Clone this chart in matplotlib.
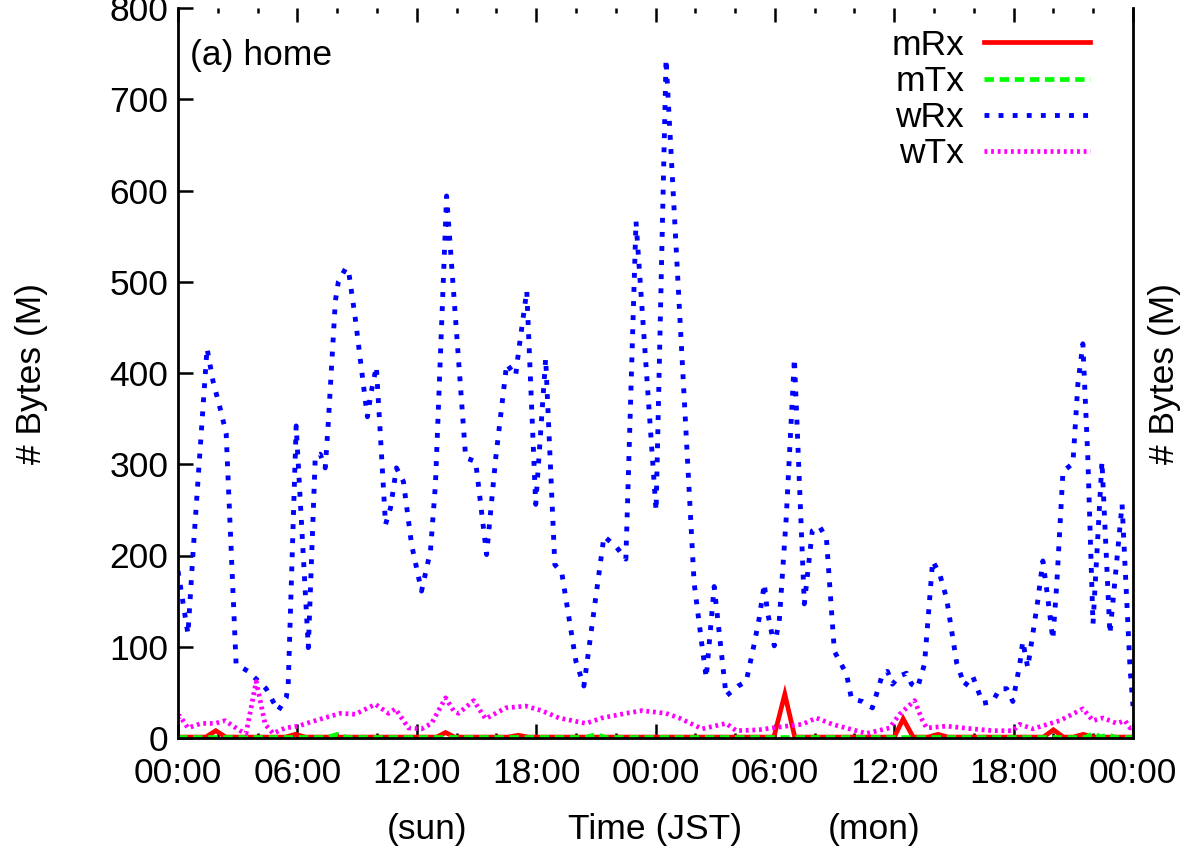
import matplotlib
matplotlib.use("Agg")
import matplotlib.pyplot as plt
import matplotlib.transforms as mtransforms

plt.rcParams['font.family'] = ['Liberation Sans', 'DejaVu Sans']
plt.rcParams['font.size'] = 25.5

# time in hours from Sat 00:00 (JST), values in MBytes
wrx_t = [0.0, 0.5, 0.75, 1.46, 1.76, 2.12, 2.42, 2.92, 3.53, 4.43, 4.78, 5.04, 5.44, 5.54,
         5.94, 6.55, 6.90, 7.15, 7.40, 7.55, 7.91, 8.06, 8.41, 8.56, 8.91, 9.42, 9.52, 9.72,
         9.97, 10.22, 10.43, 10.68, 10.98, 11.33, 11.74, 12.24, 12.69, 12.94, 13.50, 14.46,
         14.96, 15.51, 15.97, 16.52, 16.97, 17.12, 17.53, 17.98, 18.48, 18.94, 19.29, 20.00,
         20.40, 21.41, 22.01, 22.51, 23.02, 24.03, 24.53, 25.94, 26.35, 26.55, 26.95, 27.55,
         28.16, 28.56, 28.97, 29.21, 29.47, 29.62, 29.97, 30.22, 30.57, 30.98, 31.48, 31.88,
         32.24, 32.59, 32.99, 33.60, 33.85, 34.40, 34.90, 35.41, 35.66, 35.91, 36.27, 36.62,
         36.87, 37.17, 37.52, 37.93, 38.28, 38.63, 39.14, 39.54, 39.94, 40.45, 40.95, 41.30,
         41.65, 41.96, 42.31, 42.46, 42.71, 43.21, 43.47, 43.72, 43.97, 44.17, 44.48, 44.98,
         45.23, 45.48, 45.73, 45.99, 46.44, 46.84, 47.45, 47.85, 48.0]
wrx_v = [183, 114, 201, 427, 391, 361, 334, 81, 73, 54, 40, 30, 44, 59,
         342, 99, 309, 311, 296, 344, 479, 500, 514, 514, 460, 369, 352, 380,
         407, 314, 234, 252, 296, 281, 212, 161, 205, 278, 594, 307,
         303, 201, 307, 410, 397, 424, 490, 256, 416, 190, 181, 84,
         57, 221, 210, 196, 566, 249, 744, 170, 99, 66, 166, 46,
         57, 62, 104, 131, 169, 139, 101, 128, 241, 416, 147, 227,
         232, 219, 95, 70, 43, 40, 33, 70, 73, 59, 68, 71,
         59, 55, 81, 194, 180, 153, 82, 57, 68, 38, 40, 54,
         54, 40, 81, 106, 77, 150, 194, 153, 108, 169, 292, 301,
         388, 432, 307, 125, 303, 114, 256, 77, 35]

wtx_t = [0.0, 0.1, 0.5, 1.16, 1.86, 2.37, 3.12, 3.42, 3.93, 4.38, 4.78, 5.39, 6.04, 6.45,
         7.20, 8.16, 8.91, 9.92, 10.58, 10.93, 11.58, 12.24, 12.74, 13.45, 13.85, 14.10,
         14.86, 15.46, 16.47, 17.48, 18.28, 19.14, 20.50, 21.31, 22.51, 23.32, 24.53, 25.18,
         26.34, 27.55, 28.06, 29.21, 29.87, 30.57, 31.38, 32.08, 32.89, 33.75, 34.60, 35.76,
         36.27, 37.02, 37.42, 37.63, 38.63, 39.94, 40.95, 41.96, 42.31, 42.96, 44.32, 45.48,
         45.99, 46.49, 47.19, 47.60, 47.85, 48.0]
wtx_v = [22, 24, 11, 16, 16, 19, 8, 5, 62, 15, 5, 11, 13, 16,
         21, 27, 26, 37, 27, 32, 11, 10, 16, 44, 30, 27,
         41, 21, 33, 35, 30, 22, 16, 22, 27, 30, 27, 22,
         10, 16, 8, 9, 11, 13, 15, 22, 15, 10, 5, 11,
         26, 41, 19, 11, 13, 10, 8, 8, 15, 10, 19, 32,
         19, 22, 16, 19, 11, 12]

mrx_t = [0.0, 1.4, 1.9, 2.4, 5.4, 5.9, 6.4, 13.0, 13.45, 13.9, 16.6, 17.1, 17.6,
         29.95, 30.5, 31.0, 36.0, 36.45, 36.95, 37.7, 38.2, 38.7, 43.5, 44.0, 44.5,
         45.0, 45.5, 46.0, 48.0]
mrx_v = [1, 1, 8, 1, 1, 4, 1, 1, 6, 1, 1, 3, 1,
         1, 48, 1, 1, 21, 1, 1, 4, 1, 1, 9, 1,
         1, 4, 1, 1]

mtx_t = [0.0, 7.5, 8.0, 8.5, 20.5, 21.0, 21.5, 45.6, 46.0, 46.4, 46.75, 47.1, 48.0]
mtx_v = [0.5, 0.5, 4, 0.5, 0.5, 4, 0.5, 0.5, 5, 1, 4, 0.5, 0.5]

xtick_hours = [0, 6, 12, 18, 24, 30, 36, 42, 48]
xtick_labels = ['00:00', '06:00', '12:00', '18:00', '00:00', '06:00', '12:00', '18:00', '00:00']
ytick_values = [0, 100, 200, 300, 400, 500, 600, 700, 800]

fig = plt.figure(figsize=(11.84, 8.51), dpi=100)
ax = fig.add_axes([178 / 1184, 113 / 851, 955 / 1184, 730 / 851])

ax.plot(mrx_t, mrx_v, color='#ff0000', lw=3.4, label='mRx', solid_joinstyle='miter')
ax.plot(mtx_t, mtx_v, color='#00ff00', lw=3.4, dashes=(2.0, 1.2), label='mTx')
ax.plot(wrx_t, wrx_v, color='#0000ff', lw=3.5, dashes=(1.0, 1.9), label='wRx')
ax.plot(wtx_t, wtx_v, color='#ff00ff', lw=3.4, dashes=(0.6, 0.8), label='wTx')

ax.set_xlim(0, 48)
ax.set_ylim(0, 800)
ax.set_xticks(xtick_hours)
ax.set_xticklabels(xtick_labels)
ax.set_xticks(range(0, 49, 2), minor=True)
ax.set_yticks(ytick_values)

for s in ax.spines.values():
    s.set_linewidth(2.0)
ax.spines['top'].set_visible(False)

ax.tick_params(which='both', direction='in', top=True, right=True, width=1.8)
ax.tick_params(axis='x', which='major', length=10, pad=14)
ax.tick_params(axis='x', which='minor', length=3.5)
ax.tick_params(axis='y', which='major', length=11, pad=7)

ax.set_ylabel('# Bytes (M)')
ax.yaxis.set_label_coords(-0.136, 0.5)
ax.set_xlabel('Time (JST)')
ax.xaxis.set_label_coords(0.5, -0.103)

trans = mtransforms.blended_transform_factory(ax.transData, ax.transAxes)
ax.text(12.5, -0.103, '(sun)', transform=trans, ha='center', va='top')
ax.text(35.0, -0.103, '(mon)', transform=trans, ha='center', va='top')

ax2 = ax.twinx()
ax2.set_ylim(0, 800)
ax2.set_yticks([])
for s in ax2.spines.values():
    s.set_visible(False)
ax2.set_ylabel('# Bytes (M)')
ax2.yaxis.set_label_coords(1.0157, 0.5)

ax.text(0.0126, 0.958, '(a) home', transform=ax.transAxes, ha='left', va='top')

leg = ax.legend(loc='upper right', bbox_to_anchor=(0.966, 0.986), frameon=False,
                markerfirst=False, handlelength=3.0, handletextpad=0.55,
                labelspacing=0.09, borderpad=0.3, borderaxespad=0.0)

fig.savefig('out.png', dpi=100)
